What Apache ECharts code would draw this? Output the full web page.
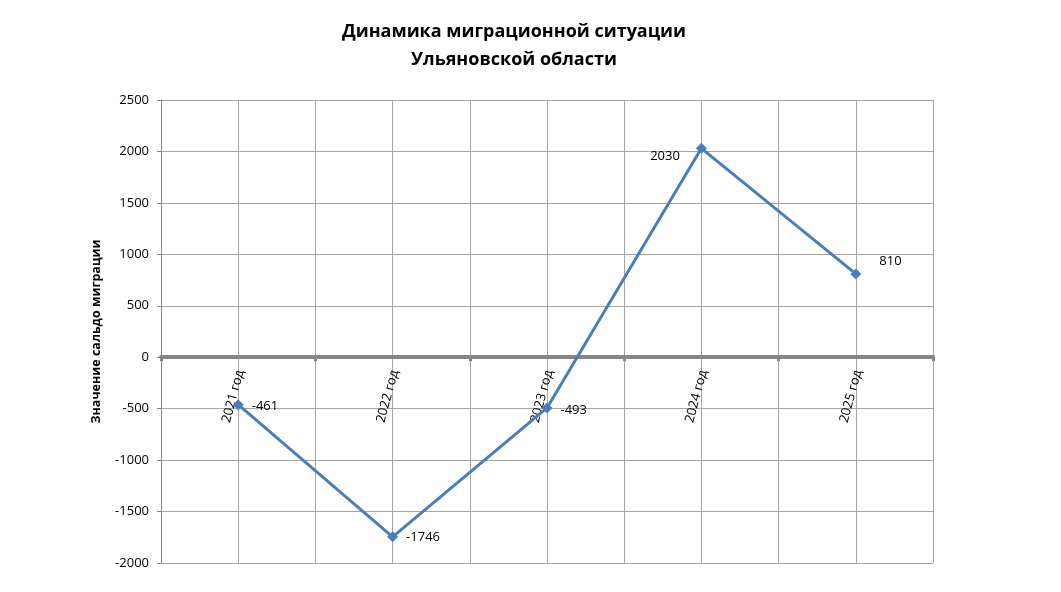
<!DOCTYPE html>
<html>
<head>
<meta charset="utf-8">
<script src="https://cdn.jsdelivr.net/npm/echarts@6/dist/echarts.min.js"></script>
<style>html,body{margin:0;padding:0;background:#fff}#c{width:1061px;height:592px}</style>
</head>
<body>
<div id="c"></div>
<script>
const categories = ['2021 год', '2022 год', '2023 год', '2024 год', '2025 год'];
const values = [-461, -1746, -493, 2030, 810];
const yTicks = { min: -2000, max: 2500, interval: 500 };
const titleText = 'Динамика миграционной ситуации\nУльяновской области';
const yName = 'Значение сальдо миграции';

const FONT = '"Open Sans", "Noto Sans", sans-serif';
const labelPos = ['right', 'right', 'right', 'left', 'right'];
const labelOff = [[0, 2], [0, 0], [0, 2], [-8, 8], [10, -13]];

const chart = echarts.init(document.getElementById('c'), null, { renderer: 'canvas' });
chart.setOption({
  animation: false,
  backgroundColor: '#fff',
  title: {
    text: titleText,
    left: 509,
    top: 13,
    textAlign: 'center',
    textStyle: { fontFamily: FONT, fontSize: 18, fontWeight: 'bold', color: '#000', lineHeight: 28 }
  },
  grid: { left: 161, right: 128, top: 100, bottom: 29, containLabel: false, outerBoundsMode: 'none' },
  xAxis: [
    {
      type: 'category',
      data: categories,
      boundaryGap: true,
      axisLine: { onZero: true, lineStyle: { color: '#868686', width: 4 } },
      axisTick: { show: true, length: 4, lineStyle: { color: '#868686', width: 3 } },
      splitLine: { show: false },
      axisLabel: { show: false }
    },
    {
      type: 'value',
      min: 0, max: 10, interval: 1,
      position: 'bottom',
      axisLine: { show: false, onZero: false },
      axisTick: { show: false },
      axisLabel: { show: false },
      splitLine: { show: true, lineStyle: { color: '#a6a6a6', width: 1 } }
    }
  ],
  yAxis: {
    type: 'value',
    min: yTicks.min, max: yTicks.max, interval: yTicks.interval,
    name: yName,
    nameLocation: 'middle',
    nameGap: 58,
    nameRotate: 90,
    nameTextStyle: { fontFamily: FONT, fontSize: 12.5, fontWeight: 'bold', color: '#000' },
    axisLine: { show: true, onZero: false, lineStyle: { color: '#868686', width: 1 } },
    axisTick: { show: true, length: 4, lineStyle: { color: '#868686' } },
    axisLabel: { margin: 12, fontFamily: FONT, fontSize: 13, color: '#000', formatter: v => String(v) },
    splitLine: { show: true, lineStyle: { color: '#a6a6a6', width: 1 } }
  },
  series: [
    {
      type: 'line',
      xAxisIndex: 0,
      data: values.map((v, i) => ({
        value: v,
        label: { position: labelPos[i], offset: labelOff[i] }
      })),
      symbol: 'diamond',
      symbolSize: 11,
      lineStyle: { color: '#4a7ebb', width: 3 },
      itemStyle: { color: '#4a7ebb' },
      label: { show: true, fontFamily: FONT, fontSize: 13, color: '#000', distance: 8 },
      z: 5
    },
    {
      type: 'custom',
      xAxisIndex: 0,
      silent: true,
      z: 4,
      data: categories.map((c, i) => [i, 0]),
      renderItem: function (params, api) {
        const pt = api.coord([api.value(0), 0]);
        return {
          type: 'text',
          x: pt[0] + 2,
          y: pt[1] + 13,
          rotation: 75 * Math.PI / 180,
          style: {
            text: categories[params.dataIndex],
            align: 'right',
            verticalAlign: 'middle',
            fontFamily: FONT,
            fontSize: 13,
            fill: '#000'
          }
        };
      }
    }
  ]
});
</script>
</body>
</html>
